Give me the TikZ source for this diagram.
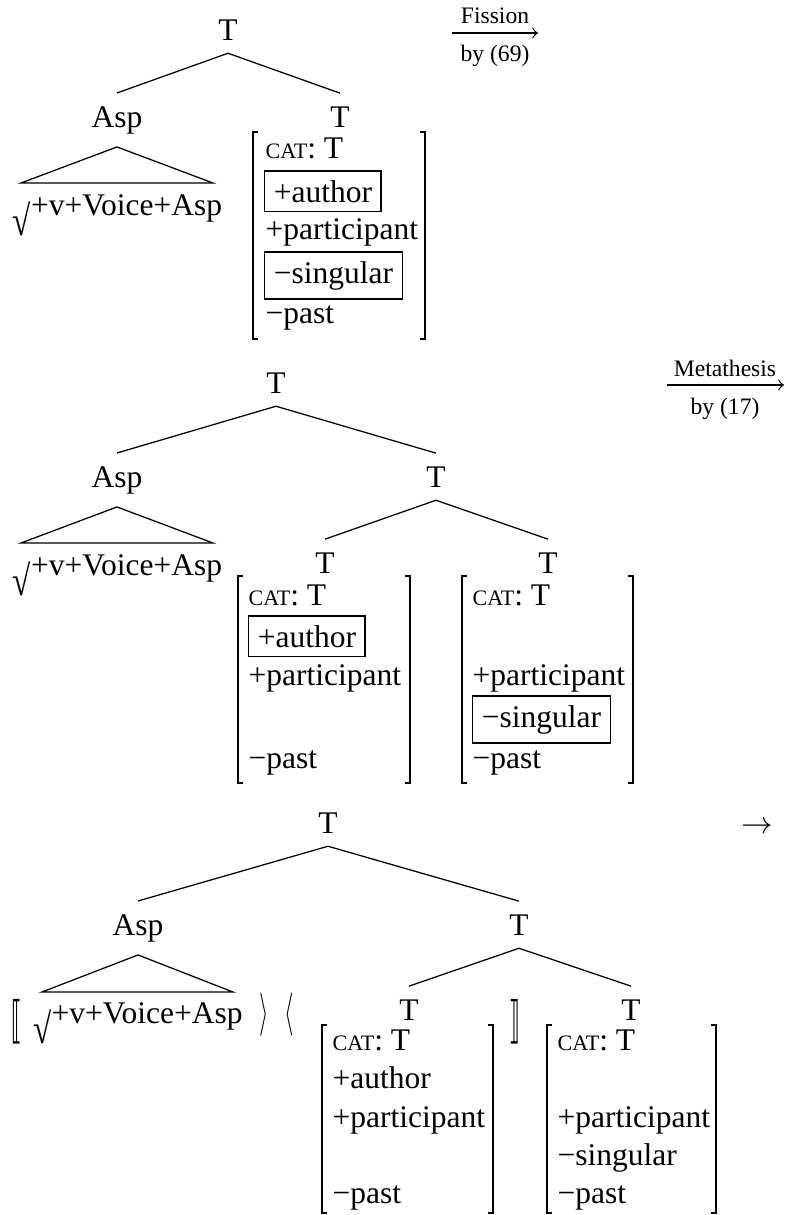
\documentclass[tikz,border=0pt]{standalone}
\usepackage{fontspec}
\setmainfont{Liberation Serif}
\newfontfamily\djv{DejaVu Sans}
\usetikzlibrary{calc}
\newcommand\mycat{{\fontsize{7pt}{8pt}\selectfont CAT}: T}
\newcommand\myroot{\raisebox{-6.6pt}{\scalebox{1.05}[1.35]{√}}}
\newcommand\avmbr[4]{%
  \draw[br] (#1+5,#3) -- (#1,#3) -- (#1,#4) -- (#1+5,#4);
  \draw[br] (#2-5,#3) -- (#2,#3) -- (#2,#4) -- (#2-5,#4);}
\begin{document}
\begin{tikzpicture}[x=0.3175pt,y=-0.3175pt,
  every node/.style={font=\fontsize{10pt}{12pt}\selectfont},
  lab/.style={inner sep=4pt, anchor=base},
  row/.style={inner sep=0pt, anchor=base west},
  fb/.style={draw, line width=0.4pt, inner sep=2.9pt, anchor=base west},
  arrlab/.style={inner sep=0pt, anchor=base, font=\fontsize{7.5pt}{9pt}\selectfont},
  br/.style={line width=0.6pt},
  edge/.style={line width=0.4pt},
  leaf/.style={inner sep=0pt, anchor=base},
  delim/.style={inner sep=0pt, anchor=center}
]
\useasboundingbox (0,0) rectangle (790,1215);

% ---------- Tree 1 ----------
\node[lab] (t1) at (228,40) {T};
\node[lab] (t1a) at (117,127) {Asp};
\node[lab] (t1b) at (340,127) {T};
\draw[edge] (t1.south) -- (t1a.north);
\draw[edge] (t1.south) -- (t1b.north);
\node[leaf] (l1) at (117.5,215) {\myroot+v+Voice+Asp};
\coordinate (l1L) at (21,183);
\coordinate (l1R) at (213,183);
\draw[edge] (t1a.south) -- (l1L) -- (l1R) -- cycle;
\avmbr{253}{425}{132}{339}
\node[row] (c1) at (265,158) {\mycat};
\node[fb] (a1) at (264,202) {+author};
\node[row] (p1) at (265,239) {+participant};
\node[fb] (s1) at (264,283) {−singular};
\node[row] (ps1) at (265,323) {−past};
% Fission arrow
\coordinate (f1a) at (452,33);
\coordinate (f1b) at (538,33);
\draw[edge,->] (f1a) -- (f1b);
\node[arrlab] (fis) at (495,23) {Fission};
\node[arrlab] (by69) at (495,61) {by (69)};

% ---------- Tree 2 ----------
\node[lab] (t2) at (276,393) {T};
\node[lab] (t2a) at (117,487) {Asp};
\node[lab] (t2b) at (436,487) {T};
\draw[edge] (t2.south) -- (t2a.north);
\draw[edge] (t2.south) -- (t2b.north);
\node[leaf] (l2) at (117.5,575) {\myroot+v+Voice+Asp};
\coordinate (l2L) at (21,543);
\coordinate (l2R) at (213,543);
\draw[edge] (t2a.south) -- (l2L) -- (l2R) -- cycle;
\node[lab] (t2c) at (325,573) {T};
\node[lab] (t2d) at (548,573) {T};
\draw[edge] (t2b.south) -- (t2c.north);
\draw[edge] (t2b.south) -- (t2d.north);
\avmbr{238}{410}{576}{783}
\node[row] (c2a) at (248,605) {\mycat};
\node[fb] (a2a) at (248,647) {+author};
\node[row] (p2a) at (248,685) {+participant};
\node[row] (ps2a) at (248,768) {−past};
\avmbr{462}{633}{576}{783}
\node[row] (c2b) at (472,605) {\mycat};
\node[row] (p2b) at (472,685) {+participant};
\node[fb] (s2b) at (472,727) {−singular};
\node[row] (ps2b) at (472,768) {−past};
% Metathesis arrow
\coordinate (m1a) at (667,385);
\coordinate (m1b) at (784,385);
\draw[edge,->] (m1a) -- (m1b);
\node[arrlab] (met) at (725,376) {Metathesis};
\node[arrlab] (by17) at (725,414) {by (17)};

% ---------- Tree 3 ----------
\node[lab] (t3) at (328,833) {T};
\node[lab] (t3a) at (138,935) {Asp};
\node[lab] (t3b) at (519,935) {T};
\draw[edge] (t3.south) -- (t3a.north);
\draw[edge] (t3.south) -- (t3b.north);
\node[leaf] (l3) at (138,1023) {\myroot+v+Voice+Asp};
\coordinate (l3L) at (42,992);
\coordinate (l3R) at (233,992);
\draw[edge] (t3a.south) -- (l3L) -- (l3R) -- cycle;
\node[delim] (lbb) at (17,1022) {\resizebox*{3.4pt}{14.2pt}{\djv ⟦}};
\node[delim] (ra) at (264,1015) {\resizebox*{3pt}{13.7pt}{$\rangle$}};
\node[delim] (la) at (289,1015) {\resizebox*{3pt}{13.7pt}{$\langle$}};
\node[delim] (rbb) at (515,1022) {\resizebox*{3.4pt}{14.2pt}{\djv ⟧}};
\node[lab] (t3c) at (409,1020) {T};
\node[lab] (t3d) at (631,1020) {T};
\draw[edge] (t3b.south) -- (t3c.north);
\draw[edge] (t3b.south) -- (t3d.north);
\avmbr{322}{493}{1025}{1213}
\node[row] (c3a) at (332,1050) {\mycat};
\node[row] (a3a) at (332,1088) {+author};
\node[row] (p3a) at (332,1127) {+participant};
\node[row] (ps3a) at (332,1203) {−past};
\avmbr{547}{716}{1025}{1213}
\node[row] (c3b) at (557,1050) {\mycat};
\node[row] (p3b) at (557,1127) {+participant};
\node[row] (s3b) at (557,1165) {−singular};
\node[row] (ps3b) at (557,1203) {−past};
\node[inner sep=0pt, anchor=base west] (fin) at (741,833) {$\rightarrow$};
\end{tikzpicture}
\end{document}
